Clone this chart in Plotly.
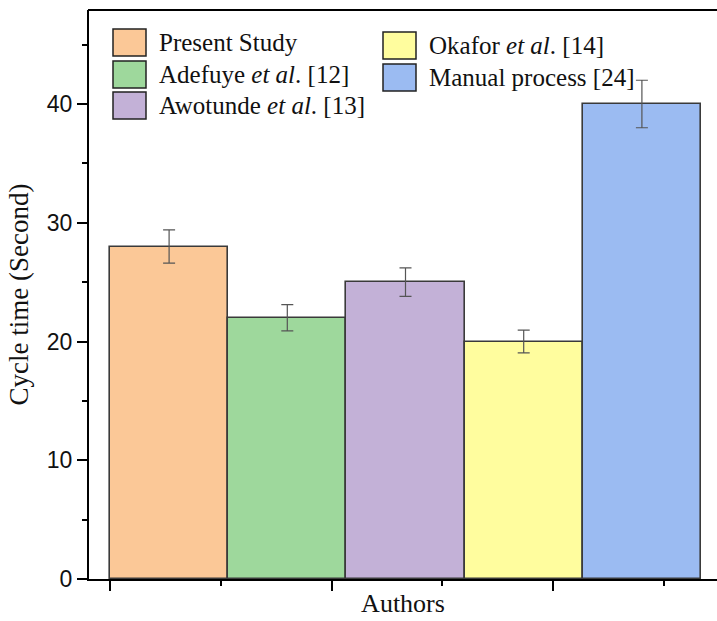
import plotly.graph_objects as go

# ---- data ----
authors = ["Present Study", "Adefuye <i>et al</i>. [12]", "Awotunde <i>et al</i>. [13]",
           "Okafor <i>et al</i>. [14]", "Manual process [24]"]
cycle_time = [28, 22, 25, 20, 40]
error = [1.4, 1.1, 1.2, 0.95, 2.0]
colors = ["#FBC897", "#9ED89C", "#C3B1D7", "#FFFD9E", "#9BBBF2"]
y_ticks = [0, 10, 20, 30, 40]

W, H = 717, 621
ML, MR, MT, MB = 89, 0, 10, 42
PW, PH = W - ML - MR, H - MT - MB

fig = go.Figure()
for i, (name, val, err, col) in enumerate(zip(authors, cycle_time, error, colors)):
    fig.add_trace(go.Bar(
        x=[i + 0.5], y=[val], width=[1.0], name=name,
        marker=dict(color=col, line=dict(color="#3a3a3a", width=1.6)),
        error_y=dict(type="data", array=[err], color="#555555", thickness=1.2, width=6),
        showlegend=False,
    ))

# manual legend (large swatches like the original)
def px2paper(px, py):
    return (px - ML) / PW, (MT + PH - py) / PH

col_x = [113, 383]
col_rows = [[29, 61, 92], [32, 64]]
shapes, annotations = [], []
k = 0
for c in range(2):
    for top in col_rows[c]:
        x0, y1 = px2paper(col_x[c], top)
        x1, y0 = px2paper(col_x[c] + 33, top + 27)
        shapes.append(dict(type="rect", xref="paper", yref="paper", x0=x0, x1=x1, y0=y0, y1=y1,
                           fillcolor=colors[k], line=dict(color="#222222", width=1.5)))
        tx, ty = px2paper(col_x[c] + 44, top + 13.5)
        annotations.append(dict(xref="paper", yref="paper", x=tx, y=ty, xanchor="left", yanchor="middle",
                                text=authors[k], showarrow=False,
                                font=dict(family="Liberation Serif", size=25, color="#111111")))
        k += 1

# top frame line
shapes.append(dict(type="line", xref="paper", yref="paper", x0=-0.0016, x1=1.0, y0=1, y1=1,
                   line=dict(color="black", width=2)))

tick_step = 221.5 / 118.2
fig.update_layout(
    width=W, height=H,
    margin=dict(l=ML, r=MR, t=MT, b=MB),
    plot_bgcolor="white", paper_bgcolor="white",
    bargap=0,
    shapes=shapes, annotations=annotations,
    xaxis=dict(
        range=[-21 / 118.2, (717 - 110) / 118.2],
        showgrid=False, zeroline=False,
        showline=True, linecolor="black", linewidth=2, mirror=False,
        ticks="outside", ticklen=10, tickwidth=2, tickcolor="black",
        tick0=0, dtick=tick_step, showticklabels=False,
        minor=dict(ticks="outside", ticklen=5, tickwidth=2, tickcolor="black",
                   tick0=0, dtick=tick_step / 2),
        title=dict(text="Authors", font=dict(family="Liberation Serif", size=26, color="#111111"),
                   standoff=4),
    ),
    yaxis=dict(
        range=[0, PH / 11.875],
        showgrid=False, zeroline=False,
        showline=True, linecolor="black", linewidth=2, mirror=False,
        ticks="outside", ticklen=10, tickwidth=2, tickcolor="black",
        tickvals=y_ticks, ticktext=[str(v) for v in y_ticks],
        tickfont=dict(family="Liberation Sans", size=23, color="#111111"),
        minor=dict(ticks="outside", ticklen=5, tickwidth=2, tickcolor="black", dtick=5, tick0=0),
        title=dict(text="Cycle time (Second)", font=dict(family="Liberation Serif", size=27, color="#111111"),
                   standoff=10),
    ),
)

fig.write_html("out.html", config={"displayModeBar": False})
with open("out.html", encoding="utf-8") as f:
    html = f.read()
html = html.replace("<head>", "<head><style>html,body{margin:0;padding:0;overflow:hidden;}</style>", 1)
with open("out.html", "w", encoding="utf-8") as f:
    f.write(html)
